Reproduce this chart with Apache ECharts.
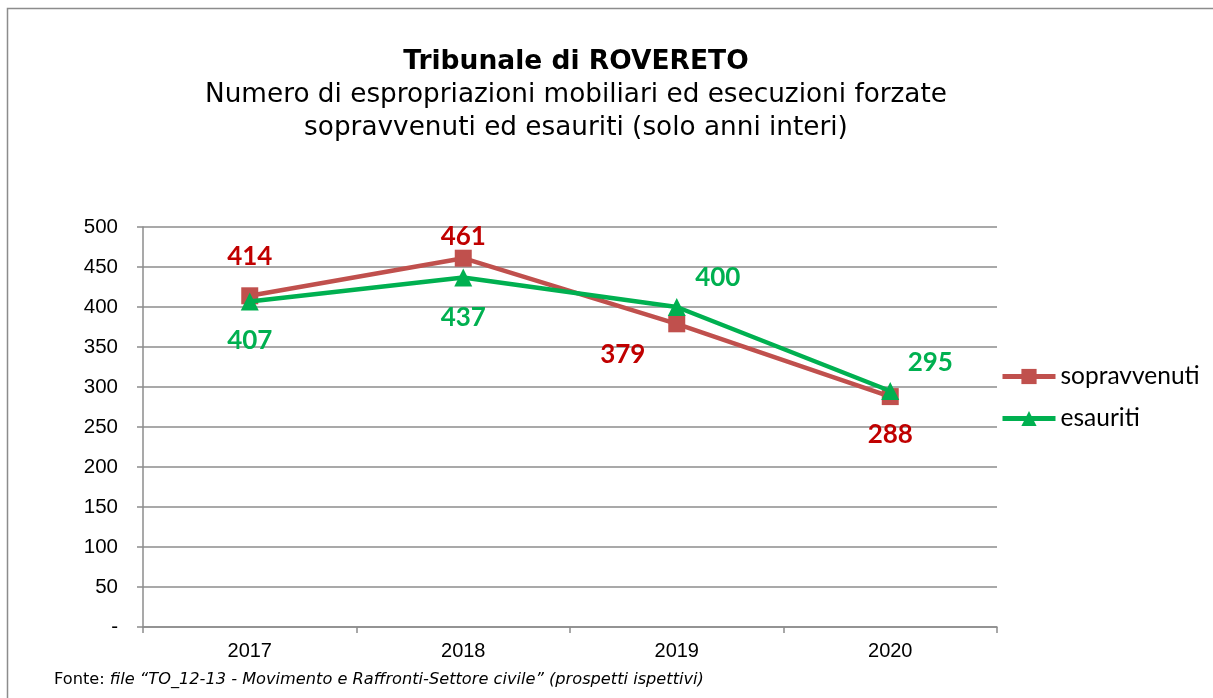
<!DOCTYPE html>
<html>
<head>
<meta charset="utf-8">
<script src="https://cdn.jsdelivr.net/npm/echarts@6/dist/echarts.min.js"></script>
<style>
  html, body { margin: 0; padding: 0; background: #fff; }
  #chart { width: 1213px; height: 698px; }
</style>
</head>
<body>
<div id="chart"></div>
<script>
// dati
const anni = ['2017', '2018', '2019', '2020'];
const sopravvenuti = [414, 461, 379, 288];
const esauriti = [407, 437, 400, 295];
const yTicks = [0, 50, 100, 150, 200, 250, 300, 350, 400, 450, 500];

// spostamento etichette (px) rispetto al punto
const offSopr = [[0, -39], [0, -22], [-54, 31], [0, 38]];
const offEsau = [[0, 39], [0, 40], [41, -29], [40, -28]];

const myChart = echarts.init(document.getElementById('chart'));

function punti(vals, off, col) {
  return vals.map((v, i) => ({
    value: v,
    label: { show: true, position: 'inside', offset: off[i], color: col }
  }));
}

const lblFont = { fontFamily: 'Lato', fontWeight: 'bold', fontSize: 26 };

myChart.setOption({
  animation: false,
  title: [
    {
      text: '{b|Tribunale di ROVERETO}\n{n|Numero di espropriazioni mobiliari ed esecuzioni forzate}\n{n|sopravvenuti ed esauriti (solo anni interi)}',
      left: 571,
      top: 40,
      textAlign: 'center',
      textStyle: {
        rich: {
          b: { fontFamily: 'DejaVu Sans', fontWeight: 'bold', fontSize: 26.5, color: '#000', lineHeight: 34, align: 'center' },
          n: { fontFamily: 'DejaVu Sans', fontWeight: 'normal', fontSize: 26.3, color: '#000', lineHeight: 33, align: 'center' }
        }
      }
    },
    {
      text: '{n|Fonte: }{i|file “TO_12-13 - Movimento e Raffronti-Settore civile” (prospetti ispettivi)}',
      left: 49,
      top: 667,
      textStyle: {
        rich: {
          n: { fontFamily: 'DejaVu Sans', fontWeight: 'normal', fontSize: 16.2, color: '#000' },
          i: { fontFamily: 'DejaVu Sans', fontWeight: 'normal', fontStyle: 'italic', fontSize: 16.2, color: '#000' }
        }
      }
    }
  ],
  graphic: [{
    type: 'rect',
    shape: { x: 7.5, y: 8.5, width: 1220, height: 700 },
    style: { fill: 'none', stroke: '#8c8c8c', lineWidth: 1.5 },
    silent: true
  }],
  legend: {
    orient: 'vertical',
    left: 995,
    top: 359,
    itemWidth: 53,
    itemHeight: 19,
    itemGap: 17,
    lineStyle: { width: 5 },
    textStyle: { fontFamily: 'Lato', fontSize: 24.5, color: '#000' },
    data: ['sopravvenuti', 'esauriti']
  },
  grid: { left: 143, right: 216, top: 227, bottom: 71 },
  xAxis: {
    type: 'category',
    data: anni,
    boundaryGap: true,
    axisLine: { lineStyle: { color: '#8c8c8c', width: 1.5 } },
    axisTick: { show: true, length: 6, lineStyle: { color: '#8c8c8c', width: 1.5 } },
    axisLabel: { fontFamily: 'Liberation Sans', fontSize: 20, color: '#000', margin: 14 }
  },
  yAxis: {
    type: 'value',
    min: yTicks[0],
    max: yTicks[yTicks.length - 1],
    interval: 50,
    axisLine: { show: true, lineStyle: { color: '#8c8c8c', width: 1.5 } },
    axisTick: { show: true, length: 6, lineStyle: { color: '#8c8c8c', width: 1.5 } },
    splitLine: { lineStyle: { color: '#8c8c8c', width: 1.5 } },
    axisLabel: {
      fontFamily: 'Liberation Sans', fontSize: 20.5, color: '#000', margin: 25,
      formatter: v => (v === 0 ? '-' : String(v))
    }
  },
  series: [
    {
      name: 'sopravvenuti',
      type: 'line',
      data: punti(sopravvenuti, offSopr, '#C00000'),
      symbol: 'rect',
      symbolSize: 17,
      lineStyle: { color: '#C0504D', width: 4.5 },
      itemStyle: { color: '#C0504D' },
      label: lblFont,
      z: 2
    },
    {
      name: 'esauriti',
      type: 'line',
      data: punti(esauriti, offEsau, '#00B050'),
      symbol: 'triangle',
      symbolSize: 18,
      lineStyle: { color: '#00B050', width: 4.5 },
      itemStyle: { color: '#00B050' },
      label: lblFont,
      z: 3
    }
  ]
});
</script>
</body>
</html>
